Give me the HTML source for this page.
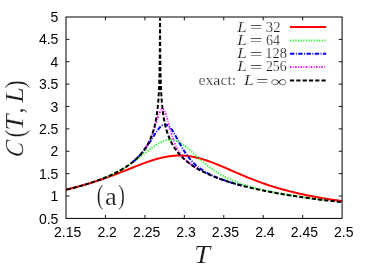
<!DOCTYPE html>
<html><head><meta charset="utf-8"><title>C(T,L)</title>
<style>html,body{margin:0;padding:0;background:#fff;}body{width:374px;height:273px;overflow:hidden;font-family:"Liberation Sans",sans-serif;}svg{display:block;will-change:transform;}</style>
</head><body>
<svg width="374" height="273" viewBox="0 0 374 273">
<rect width="374" height="273" fill="#fff"/>
<g fill="none" stroke-width="2.0" stroke-linejoin="round">
<path d="M66.00,189.70 L67.97,189.22 L69.94,188.73 L71.92,188.23 L73.89,187.73 L75.86,187.21 L77.83,186.68 L79.80,186.14 L81.78,185.59 L83.75,185.03 L85.72,184.46 L87.69,183.87 L89.67,183.28 L91.64,182.67 L93.61,182.05 L95.58,181.42 L97.55,180.77 L99.53,180.11 L101.50,179.45 L103.47,178.76 L105.44,178.07 L107.41,177.37 L109.39,176.65 L111.36,175.93 L113.33,175.19 L115.30,174.44 L117.28,173.69 L119.25,172.92 L121.22,172.15 L123.19,171.38 L125.16,170.59 L127.14,169.81 L129.11,169.02 L131.08,168.24 L133.05,167.45 L135.02,166.67 L137.00,165.89 L138.97,165.13 L140.94,164.37 L142.91,163.62 L144.89,162.90 L144.89,162.90 L145.08,162.82 L145.28,162.75 L145.48,162.68 L145.67,162.61 L145.87,162.54 L146.07,162.47 L146.27,162.40 L146.46,162.33 L146.66,162.25 L146.86,162.18 L146.86,162.18 L147.06,162.11 L147.25,162.05 L147.45,161.98 L147.65,161.91 L147.84,161.84 L148.04,161.77 L148.24,161.70 L148.44,161.63 L148.63,161.56 L148.83,161.50 L148.83,161.50 L149.03,161.43 L149.22,161.36 L149.42,161.29 L149.62,161.23 L149.82,161.16 L150.01,161.09 L150.21,161.03 L150.41,160.96 L150.60,160.90 L150.80,160.83 L150.80,160.83 L151.00,160.77 L151.20,160.70 L151.39,160.64 L151.59,160.57 L151.79,160.51 L151.99,160.44 L152.18,160.38 L152.38,160.32 L152.58,160.25 L152.77,160.19 L152.77,160.19 L152.97,160.13 L153.17,160.07 L153.37,160.01 L153.56,159.95 L153.76,159.88 L153.96,159.82 L154.15,159.76 L154.35,159.70 L154.55,159.64 L154.75,159.58 L154.75,159.58 L154.94,159.52 L155.14,159.47 L155.34,159.41 L155.54,159.35 L155.73,159.29 L155.93,159.23 L156.13,159.18 L156.32,159.12 L156.52,159.06 L156.72,159.01 L156.72,159.01 L156.92,158.95 L157.11,158.90 L157.31,158.84 L157.51,158.79 L157.70,158.73 L157.90,158.68 L158.10,158.63 L158.30,158.57 L158.49,158.52 L158.69,158.47 L158.69,158.47 L158.89,158.42 L159.09,158.36 L159.28,158.31 L159.48,158.26 L159.68,158.21 L159.87,158.16 L160.07,158.11 L160.27,158.06 L160.47,158.01 L160.66,157.97 L160.66,157.97 L160.86,157.92 L161.06,157.87 L161.25,157.82 L161.45,157.78 L161.65,157.73 L161.85,157.68 L162.04,157.64 L162.24,157.59 L162.44,157.55 L162.63,157.50 L162.64,157.50 L162.83,157.46 L163.03,157.42 L163.23,157.37 L163.42,157.33 L163.62,157.29 L163.82,157.25 L164.02,157.21 L164.21,157.17 L164.41,157.13 L164.61,157.09 L164.61,157.09 L164.80,157.05 L165.00,157.01 L165.20,156.97 L165.40,156.93 L165.59,156.89 L165.79,156.86 L165.99,156.82 L166.18,156.78 L166.38,156.75 L166.58,156.71 L166.58,156.71 L166.78,156.68 L166.97,156.65 L167.17,156.61 L167.37,156.58 L167.57,156.55 L167.76,156.51 L167.96,156.48 L168.16,156.45 L168.35,156.42 L168.55,156.39 L168.55,156.39 L168.75,156.36 L168.95,156.33 L169.14,156.30 L169.34,156.27 L169.54,156.25 L169.73,156.22 L169.93,156.19 L170.13,156.17 L170.33,156.14 L170.52,156.12 L170.52,156.12 L170.72,156.09 L170.92,156.07 L171.12,156.04 L171.31,156.02 L171.51,156.00 L171.71,155.98 L171.90,155.95 L172.10,155.93 L172.30,155.91 L172.50,155.89 L172.50,155.89 L172.69,155.87 L172.89,155.86 L173.09,155.84 L173.28,155.82 L173.48,155.80 L173.68,155.79 L173.88,155.77 L174.07,155.75 L174.27,155.74 L174.47,155.72 L174.47,155.72 L174.67,155.71 L174.86,155.70 L175.06,155.68 L175.26,155.67 L175.45,155.66 L175.65,155.65 L175.85,155.64 L176.05,155.63 L176.24,155.62 L176.44,155.61 L176.44,155.61 L176.64,155.60 L176.83,155.59 L177.03,155.59 L177.23,155.58 L177.43,155.57 L177.62,155.57 L177.82,155.56 L178.02,155.56 L178.21,155.55 L178.41,155.55 L178.41,155.55 L178.61,155.55 L178.81,155.54 L179.00,155.54 L179.20,155.54 L179.40,155.54 L179.60,155.54 L179.79,155.54 L179.99,155.54 L180.19,155.54 L180.38,155.55 L180.38,155.55 L180.58,155.55 L180.78,155.55 L180.98,155.56 L181.17,155.56 L181.37,155.56 L181.57,155.57 L181.76,155.58 L181.96,155.58 L182.16,155.59 L182.36,155.60 L182.36,155.60 L182.55,155.61 L182.75,155.61 L182.95,155.62 L183.15,155.63 L183.34,155.64 L183.54,155.66 L183.74,155.67 L183.93,155.68 L184.13,155.69 L184.33,155.71 L184.33,155.71 L186.30,155.87 L188.27,156.09 L190.24,156.36 L192.22,156.68 L194.19,157.06 L196.16,157.49 L198.13,157.96 L200.11,158.47 L202.08,159.03 L204.05,159.63 L206.02,160.27 L207.99,160.94 L209.97,161.64 L211.94,162.37 L213.91,163.13 L215.88,163.90 L217.85,164.70 L219.83,165.51 L221.80,166.34 L223.77,167.18 L225.74,168.03 L227.72,168.88 L229.69,169.74 L231.66,170.60 L233.63,171.46 L235.60,172.31 L237.58,173.16 L239.55,174.01 L241.52,174.85 L243.49,175.68 L245.46,176.50 L247.44,177.31 L249.41,178.11 L251.38,178.90 L253.35,179.67 L255.33,180.43 L257.30,181.18 L259.27,181.91 L261.24,182.63 L263.21,183.33 L265.19,184.02 L267.16,184.69 L269.13,185.34 L271.10,185.99 L273.07,186.61 L275.05,187.22 L277.02,187.82 L278.99,188.40 L280.96,188.97 L282.94,189.52 L284.91,190.06 L286.88,190.59 L288.85,191.10 L290.82,191.60 L292.80,192.09 L294.77,192.57 L296.74,193.03 L298.71,193.48 L300.68,193.92 L302.66,194.35 L304.63,194.77 L306.60,195.18 L308.57,195.58 L310.55,195.97 L312.52,196.35 L314.49,196.72 L316.46,197.08 L318.43,197.44 L320.41,197.79 L322.38,198.12 L324.35,198.45 L326.32,198.78 L328.29,199.09 L330.27,199.40 L332.24,199.71 L334.21,200.00 L336.18,200.30 L338.16,200.58 L340.13,200.86 L342.10,201.13" stroke="#ff0000"/>
<path d="M104.92,177.66 L105.44,177.45 L107.41,176.63 L109.39,175.77 L111.36,174.88 L113.33,173.95 L115.30,172.99 L117.28,171.99 L119.25,170.95 L121.22,169.87 L123.19,168.74 L125.16,167.57 L127.14,166.34 L129.11,165.07 L131.08,163.76 L133.05,162.39 L135.02,160.98 L137.00,159.52 L138.97,158.02 L140.94,156.49 L142.91,154.94 L144.89,153.38 L144.89,153.38 L145.08,153.22 L145.28,153.06 L145.48,152.90 L145.67,152.75 L145.87,152.59 L146.07,152.43 L146.27,152.28 L146.46,152.12 L146.66,151.96 L146.86,151.81 L146.86,151.81 L147.06,151.65 L147.25,151.50 L147.45,151.34 L147.65,151.18 L147.84,151.03 L148.04,150.87 L148.24,150.72 L148.44,150.56 L148.63,150.41 L148.83,150.25 L148.83,150.25 L149.03,150.10 L149.22,149.95 L149.42,149.79 L149.62,149.64 L149.82,149.49 L150.01,149.34 L150.21,149.18 L150.41,149.03 L150.60,148.88 L150.80,148.73 L150.80,148.73 L151.00,148.58 L151.20,148.43 L151.39,148.28 L151.59,148.14 L151.79,147.99 L151.99,147.84 L152.18,147.70 L152.38,147.55 L152.58,147.41 L152.77,147.26 L152.77,147.26 L152.97,147.12 L153.17,146.98 L153.37,146.83 L153.56,146.69 L153.76,146.55 L153.96,146.41 L154.15,146.28 L154.35,146.14 L154.55,146.00 L154.75,145.86 L154.75,145.86 L154.94,145.73 L155.14,145.60 L155.34,145.46 L155.54,145.33 L155.73,145.20 L155.93,145.07 L156.13,144.94 L156.32,144.82 L156.52,144.69 L156.72,144.56 L156.72,144.56 L156.92,144.44 L157.11,144.32 L157.31,144.20 L157.51,144.08 L157.70,143.96 L157.90,143.84 L158.10,143.72 L158.30,143.61 L158.49,143.49 L158.69,143.38 L158.69,143.38 L158.89,143.27 L159.09,143.16 L159.28,143.05 L159.48,142.95 L159.68,142.84 L159.87,142.74 L160.07,142.64 L160.27,142.54 L160.47,142.44 L160.66,142.34 L160.66,142.34 L160.86,142.25 L161.06,142.15 L161.25,142.06 L161.45,141.97 L161.65,141.88 L161.85,141.80 L162.04,141.71 L162.24,141.63 L162.44,141.55 L162.63,141.47 L162.64,141.47 L162.83,141.39 L163.03,141.32 L163.23,141.24 L163.42,141.17 L163.62,141.10 L163.82,141.03 L164.02,140.97 L164.21,140.90 L164.41,140.84 L164.61,140.78 L164.61,140.78 L164.80,140.72 L165.00,140.67 L165.20,140.61 L165.40,140.56 L165.59,140.51 L165.79,140.46 L165.99,140.42 L166.18,140.37 L166.38,140.33 L166.58,140.29 L166.58,140.29 L166.78,140.26 L166.97,140.22 L167.17,140.19 L167.37,140.16 L167.57,140.13 L167.76,140.11 L167.96,140.08 L168.16,140.06 L168.35,140.04 L168.55,140.03 L168.55,140.03 L168.75,140.01 L168.95,140.00 L169.14,139.99 L169.34,139.98 L169.54,139.97 L169.73,139.97 L169.93,139.97 L170.13,139.97 L170.33,139.98 L170.52,139.98 L170.52,139.98 L170.72,139.99 L170.92,140.00 L171.12,140.01 L171.31,140.03 L171.51,140.05 L171.71,140.07 L171.90,140.09 L172.10,140.11 L172.30,140.14 L172.50,140.17 L172.50,140.17 L172.69,140.20 L172.89,140.23 L173.09,140.27 L173.28,140.30 L173.48,140.35 L173.68,140.39 L173.88,140.43 L174.07,140.48 L174.27,140.53 L174.47,140.58 L174.47,140.58 L174.67,140.63 L174.86,140.69 L175.06,140.75 L175.26,140.81 L175.45,140.87 L175.65,140.93 L175.85,141.00 L176.05,141.07 L176.24,141.14 L176.44,141.21 L176.44,141.21 L176.64,141.29 L176.83,141.37 L177.03,141.45 L177.23,141.53 L177.43,141.61 L177.62,141.70 L177.82,141.78 L178.02,141.87 L178.21,141.96 L178.41,142.06 L178.41,142.06 L178.61,142.15 L178.81,142.25 L179.00,142.35 L179.20,142.45 L179.40,142.55 L179.60,142.66 L179.79,142.76 L179.99,142.87 L180.19,142.98 L180.38,143.10 L180.38,143.10 L180.58,143.21 L180.78,143.32 L180.98,143.44 L181.17,143.56 L181.37,143.68 L181.57,143.80 L181.76,143.93 L181.96,144.05 L182.16,144.18 L182.36,144.31 L182.36,144.31 L182.55,144.44 L182.75,144.57 L182.95,144.70 L183.15,144.84 L183.34,144.97 L183.54,145.11 L183.74,145.25 L183.93,145.39 L184.13,145.53 L184.33,145.67 L184.33,145.67 L186.30,147.16 L188.27,148.76 L190.24,150.43 L192.22,152.16 L194.19,153.93 L196.16,155.70 L198.13,157.48 L200.11,159.23 L202.08,160.95 L204.05,162.64 L206.02,164.27 L207.99,165.84 L209.97,167.36 L211.94,168.81 L213.91,170.20 L215.88,171.53 L217.85,172.80 L219.83,174.00 L221.80,175.14 L223.77,176.23 L225.74,177.26 L227.72,178.24 L229.69,179.18 L231.66,180.06 L233.63,180.91 L235.60,181.71 L237.58,182.48 L239.55,183.21 L241.52,183.91 L243.49,184.58 L245.46,185.22 L247.44,185.84 L249.41,186.43 L251.38,187.00 L253.35,187.55 L255.33,188.08 L257.30,188.59 L259.27,189.08 L261.24,189.56 L263.21,190.02 L265.19,190.47 L267.16,190.91 L269.13,191.33 L271.10,191.74 L273.07,192.14 L275.05,192.54 L277.02,192.92 L278.99,193.29 L280.96,193.65 L282.94,194.01 L284.91,194.36 L286.88,194.70 L288.85,195.03 L290.82,195.36 L292.80,195.68 L294.77,196.00 L296.74,196.31 L298.71,196.61 L300.68,196.91 L302.66,197.20 L304.63,197.49 L306.60,197.77 L308.57,198.05 L310.55,198.32 L312.52,198.59 L314.49,198.86 L316.46,199.12 L318.43,199.38 L320.41,199.63 L322.38,199.88 L324.35,200.13 L325.68,200.29" stroke="#00ff00" stroke-dasharray="1.0 1.65"/>
<path d="M132.47,162.17 L133.05,161.70 L135.02,160.01 L137.00,158.19 L138.97,156.21 L140.94,154.07 L142.91,151.76 L144.89,149.25 L144.89,149.25 L145.08,148.98 L145.28,148.72 L145.48,148.46 L145.67,148.19 L145.87,147.92 L146.07,147.65 L146.27,147.37 L146.46,147.10 L146.66,146.82 L146.86,146.54 L146.86,146.54 L147.06,146.26 L147.25,145.98 L147.45,145.70 L147.65,145.41 L147.84,145.12 L148.04,144.83 L148.24,144.54 L148.44,144.25 L148.63,143.95 L148.83,143.66 L148.83,143.66 L149.03,143.36 L149.22,143.06 L149.42,142.76 L149.62,142.46 L149.82,142.16 L150.01,141.85 L150.21,141.55 L150.41,141.24 L150.60,140.93 L150.80,140.62 L150.80,140.62 L151.00,140.31 L151.20,140.00 L151.39,139.69 L151.59,139.38 L151.79,139.07 L151.99,138.76 L152.18,138.44 L152.38,138.13 L152.58,137.82 L152.77,137.50 L152.77,137.50 L152.97,137.19 L153.17,136.88 L153.37,136.56 L153.56,136.25 L153.76,135.94 L153.96,135.63 L154.15,135.32 L154.35,135.01 L154.55,134.70 L154.75,134.39 L154.75,134.39 L154.94,134.09 L155.14,133.78 L155.34,133.48 L155.54,133.18 L155.73,132.88 L155.93,132.59 L156.13,132.29 L156.32,132.00 L156.52,131.71 L156.72,131.43 L156.72,131.43 L156.92,131.15 L157.11,130.87 L157.31,130.59 L157.51,130.32 L157.70,130.05 L157.90,129.79 L158.10,129.53 L158.30,129.27 L158.49,129.02 L158.69,128.78 L158.69,128.78 L158.89,128.54 L159.09,128.30 L159.28,128.07 L159.48,127.85 L159.68,127.63 L159.87,127.42 L160.07,127.21 L160.27,127.01 L160.47,126.82 L160.66,126.63 L160.66,126.63 L160.86,126.45 L161.06,126.28 L161.25,126.11 L161.45,125.95 L161.65,125.80 L161.85,125.66 L162.04,125.52 L162.24,125.39 L162.44,125.27 L162.63,125.16 L162.64,125.16 L162.83,125.06 L163.03,124.97 L163.23,124.88 L163.42,124.80 L163.62,124.73 L163.82,124.68 L164.02,124.62 L164.21,124.58 L164.41,124.55 L164.61,124.53 L164.61,124.53 L164.80,124.51 L165.00,124.51 L165.20,124.51 L165.40,124.53 L165.59,124.55 L165.79,124.58 L165.99,124.62 L166.18,124.67 L166.38,124.73 L166.58,124.80 L166.58,124.80 L166.78,124.88 L166.97,124.97 L167.17,125.07 L167.37,125.17 L167.57,125.29 L167.76,125.41 L167.96,125.54 L168.16,125.68 L168.35,125.83 L168.55,125.99 L168.55,125.99 L168.75,126.16 L168.95,126.33 L169.14,126.52 L169.34,126.71 L169.54,126.90 L169.73,127.11 L169.93,127.33 L170.13,127.55 L170.33,127.78 L170.52,128.01 L170.52,128.01 L170.72,128.25 L170.92,128.50 L171.12,128.76 L171.31,129.02 L171.51,129.29 L171.71,129.56 L171.90,129.84 L172.10,130.13 L172.30,130.42 L172.50,130.71 L172.50,130.71 L172.69,131.01 L172.89,131.32 L173.09,131.63 L173.28,131.94 L173.48,132.26 L173.68,132.58 L173.88,132.91 L174.07,133.24 L174.27,133.57 L174.47,133.91 L174.47,133.91 L174.67,134.25 L174.86,134.59 L175.06,134.93 L175.26,135.28 L175.45,135.63 L175.65,135.98 L175.85,136.33 L176.05,136.69 L176.24,137.04 L176.44,137.40 L176.44,137.40 L176.64,137.76 L176.83,138.12 L177.03,138.48 L177.23,138.84 L177.43,139.20 L177.62,139.56 L177.82,139.92 L178.02,140.29 L178.21,140.65 L178.41,141.01 L178.41,141.01 L178.61,141.37 L178.81,141.73 L179.00,142.09 L179.20,142.45 L179.40,142.81 L179.60,143.16 L179.79,143.52 L179.99,143.87 L180.19,144.23 L180.38,144.58 L180.38,144.58 L180.58,144.93 L180.78,145.28 L180.98,145.63 L181.17,145.97 L181.37,146.32 L181.57,146.66 L181.76,147.00 L181.96,147.34 L182.16,147.68 L182.36,148.01 L182.36,148.01 L182.55,148.34 L182.75,148.67 L182.95,149.00 L183.15,149.33 L183.34,149.65 L183.54,149.97 L183.74,150.29 L183.93,150.60 L184.13,150.92 L184.33,151.23 L184.33,151.23 L186.30,154.20 L188.27,156.91 L190.24,159.37 L192.22,161.59 L194.19,163.59 L196.16,165.40 L198.13,167.04 L200.11,168.54 L202.08,169.90 L204.05,171.16 L206.02,172.32 L207.99,173.40 L209.97,174.41 L211.94,175.36 L213.91,176.26 L215.88,177.11 L217.85,177.91 L219.83,178.68 L221.80,179.42 L223.77,180.13 L225.74,180.80 L227.72,181.46 L229.69,182.09 L231.66,182.70 L233.63,183.29 L235.60,183.87 L237.58,184.43 L239.55,184.97 L241.52,185.49 L242.85,185.84" stroke="#0000ff" stroke-dasharray="4.4 1.45 0.95 1.45"/>
<path d="M146.25,146.77 L146.27,146.74 L146.46,146.42 L146.66,146.09 L146.86,145.76 L146.86,145.76 L147.06,145.43 L147.25,145.09 L147.45,144.74 L147.65,144.39 L147.84,144.03 L148.04,143.67 L148.24,143.30 L148.44,142.93 L148.63,142.55 L148.83,142.17 L148.83,142.17 L149.03,141.78 L149.22,141.38 L149.42,140.98 L149.62,140.57 L149.82,140.15 L150.01,139.73 L150.21,139.29 L150.41,138.86 L150.60,138.41 L150.80,137.96 L150.80,137.96 L151.00,137.50 L151.20,137.03 L151.39,136.56 L151.59,136.08 L151.79,135.59 L151.99,135.09 L152.18,134.58 L152.38,134.07 L152.58,133.55 L152.77,133.02 L152.77,133.02 L152.97,132.49 L153.17,131.94 L153.37,131.39 L153.56,130.83 L153.76,130.26 L153.96,129.69 L154.15,129.11 L154.35,128.52 L154.55,127.93 L154.75,127.33 L154.75,127.33 L154.94,126.73 L155.14,126.12 L155.34,125.50 L155.54,124.88 L155.73,124.26 L155.93,123.64 L156.13,123.01 L156.32,122.39 L156.52,121.76 L156.72,121.13 L156.72,121.13 L156.92,120.51 L157.11,119.89 L157.31,119.27 L157.51,118.66 L157.70,118.05 L157.90,117.45 L158.10,116.86 L158.30,116.29 L158.49,115.72 L158.69,115.16 L158.69,115.16 L158.89,114.63 L159.09,114.10 L159.28,113.60 L159.48,113.11 L159.68,112.65 L159.87,112.20 L160.07,111.79 L160.27,111.39 L160.47,111.03 L160.66,110.69 L160.66,110.69 L160.86,110.38 L161.06,110.10 L161.25,109.86 L161.45,109.64 L161.65,109.46 L161.85,109.32 L162.04,109.21 L162.24,109.14 L162.44,109.11 L162.63,109.11 L162.64,109.11 L162.83,109.15 L163.03,109.22 L163.23,109.34 L163.42,109.49 L163.62,109.68 L163.82,109.90 L164.02,110.16 L164.21,110.46 L164.41,110.79 L164.61,111.15 L164.61,111.15 L164.80,111.55 L165.00,111.97 L165.20,112.43 L165.40,112.91 L165.59,113.42 L165.79,113.96 L165.99,114.52 L166.18,115.10 L166.38,115.70 L166.58,116.32 L166.58,116.32 L166.78,116.96 L166.97,117.62 L167.17,118.28 L167.37,118.97 L167.57,119.66 L167.76,120.36 L167.96,121.07 L168.16,121.79 L168.35,122.51 L168.55,123.23 L168.55,123.23 L168.75,123.96 L168.95,124.69 L169.14,125.42 L169.34,126.14 L169.54,126.87 L169.73,127.59 L169.93,128.31 L170.13,129.02 L170.33,129.73 L170.52,130.43 L170.52,130.43 L170.72,131.13 L170.92,131.81 L171.12,132.49 L171.31,133.16 L171.51,133.82 L171.71,134.48 L171.90,135.12 L172.10,135.75 L172.30,136.37 L172.50,136.99 L172.50,136.99 L172.69,137.59 L172.89,138.18 L173.09,138.76 L173.28,139.33 L173.48,139.89 L173.68,140.44 L173.88,140.98 L174.07,141.51 L174.27,142.02 L174.47,142.53 L174.47,142.53 L174.67,143.03 L174.86,143.52 L175.06,143.99 L175.26,144.46 L175.45,144.92 L175.65,145.37 L175.85,145.81 L176.05,146.24 L176.24,146.66 L176.44,147.08 L176.44,147.08 L176.64,147.48 L176.83,147.88 L177.03,148.27 L177.23,148.65 L177.43,149.02 L177.62,149.39 L177.82,149.75 L178.02,150.10 L178.21,150.44 L178.41,150.78 L178.41,150.78 L178.61,151.11 L178.81,151.44 L179.00,151.76 L179.20,152.07 L179.40,152.38 L179.60,152.68 L179.79,152.98 L179.99,153.27 L180.19,153.56 L180.38,153.84 L180.38,153.84 L180.58,154.11 L180.78,154.39 L180.98,154.65 L181.17,154.91 L181.37,155.17 L181.57,155.43 L181.76,155.68 L181.96,155.92 L182.16,156.17 L182.36,156.40 L182.36,156.40 L182.55,156.64 L182.75,156.87 L182.95,157.10 L183.15,157.32 L183.34,157.55 L183.54,157.76 L183.74,157.98 L183.93,158.19 L184.13,158.40 L184.33,158.61 L184.33,158.61 L186.30,160.54 L188.27,162.27 L190.24,163.84 L192.22,165.28 L194.19,166.62 L196.16,167.87 L198.13,169.05 L200.11,170.16 L201.44,170.87" stroke="#ff00ff" stroke-dasharray="1.5 1.6 0.7 1.4"/>
<path d="M66.000,189.731 L67.972,189.252 L69.944,188.762 L71.916,188.261 L73.889,187.750 L75.861,187.226 L77.833,186.691 L79.805,186.143 L81.134,185.766 L81.777,185.581 L83.749,185.005 L85.721,184.415 L86.425,184.200 L87.694,183.809 L89.666,183.186 L91.361,182.637 L91.638,182.546 L93.610,181.888 L95.582,181.210 L95.966,181.076 L97.554,180.512 L99.526,179.791 L100.262,179.516 L101.499,179.047 L103.471,178.277 L104.270,177.958 L105.443,177.481 L107.415,176.656 L108.009,176.401 L109.387,175.800 L111.359,174.910 L111.498,174.846 L113.331,173.983 L114.752,173.292 L115.304,173.018 L117.276,172.009 L117.788,171.739 L119.248,170.953 L120.621,170.188 L121.220,169.845 L123.192,168.681 L123.263,168.637 L125.164,167.452 L125.728,167.088 L127.136,166.153 L128.028,165.540 L129.109,164.774 L130.174,163.992 L131.081,163.305 L132.176,162.445 L133.053,161.733 L134.043,160.900 L135.025,160.042 L135.786,159.354 L136.997,158.213 L137.411,157.810 L138.927,156.266 L138.969,156.222 L140.342,154.723 L140.941,154.035 L141.662,153.180 L142.893,151.638 L142.914,151.611 L144.042,150.096 L144.886,148.891 L145.114,148.554 L146.113,147.013 L146.858,145.792 L147.046,145.473 L147.916,143.933 L148.728,142.393 L148.830,142.191 L149.485,140.853 L150.192,139.314 L150.802,137.893 L150.851,137.774 L151.466,136.235 L152.040,134.697 L152.575,133.158 L152.774,132.557 L153.074,131.620 L153.540,130.082 L153.975,128.544 L154.380,127.006 L154.746,125.519 L154.759,125.468 L155.111,123.930 L155.441,122.393 L155.748,120.855 L156.034,119.318 L156.302,117.780 L156.551,116.243 L156.719,115.148 L156.784,114.706 L157.001,113.169 L157.203,111.632 L157.392,110.095 L157.569,108.558 L157.733,107.021 L157.886,105.484 L158.029,103.947 L158.163,102.410 L158.288,100.874 L158.404,99.337 L158.512,97.800 L158.613,96.263 L158.691,95.011 L158.708,94.727 L158.796,93.190 L158.878,91.653 L158.954,90.117 L159.026,88.580 L159.093,87.043 L159.155,85.507 L159.213,83.970 L159.267,82.434 L159.318,80.897 L159.365,79.360 L159.409,77.824 L159.450,76.287 L159.488,74.751 L159.524,73.214 L159.557,71.677 L159.588,70.141 L159.617,68.604 L159.644,67.068 L159.669,65.531 L159.693,63.994 L159.715,62.458 L159.735,60.921 L159.754,59.385 L159.772,57.848 L159.789,56.312 L159.804,54.775 L159.819,53.238 L159.832,51.702 L159.845,50.165 L159.857,48.629 L159.868,47.092 L159.878,45.556 L159.887,44.019 L159.896,42.482 L159.905,40.946 L159.912,39.409 L159.920,37.873 L159.926,36.336 L159.933,34.800 L159.939,33.263 L159.944,31.726 L159.949,30.190 L159.954,28.653 L159.958,27.117 L159.962,25.580 L159.966,24.043 L159.970,22.507 L159.973,20.970 L159.976,19.434 L159.978,18.790 L160.063,18.790 L160.064,19.434 L160.067,20.971 L160.070,22.507 L160.074,24.044 L160.078,25.581 L160.082,27.117 L160.087,28.654 L160.091,30.191 L160.096,31.727 L160.102,33.264 L160.108,34.800 L160.114,36.337 L160.121,37.874 L160.128,39.410 L160.136,40.947 L160.144,42.483 L160.153,44.020 L160.163,45.557 L160.173,47.093 L160.184,48.630 L160.195,50.167 L160.208,51.703 L160.222,53.240 L160.236,54.776 L160.252,56.313 L160.268,57.850 L160.286,59.386 L160.305,60.923 L160.326,62.460 L160.348,63.996 L160.371,65.533 L160.396,67.069 L160.423,68.606 L160.452,70.143 L160.483,71.679 L160.517,73.216 L160.552,74.753 L160.591,76.289 L160.632,77.826 L160.663,78.924 L160.676,79.362 L160.723,80.899 L160.773,82.436 L160.828,83.972 L160.886,85.509 L160.948,87.045 L161.014,88.582 L161.086,90.118 L161.163,91.655 L161.245,93.191 L161.333,94.728 L161.427,96.264 L161.528,97.801 L161.637,99.337 L161.753,100.874 L161.877,102.410 L162.011,103.946 L162.154,105.483 L162.307,107.019 L162.472,108.555 L162.635,109.981 L162.648,110.091 L162.837,111.628 L163.040,113.164 L163.257,114.700 L163.489,116.236 L163.739,117.771 L164.006,119.307 L164.293,120.843 L164.600,122.378 L164.607,122.415 L164.929,123.914 L165.282,125.449 L165.660,126.984 L166.066,128.520 L166.500,130.054 L166.579,130.323 L166.966,131.589 L167.465,133.124 L168.001,134.658 L168.551,136.133 L168.574,136.192 L169.189,137.726 L169.848,139.259 L170.524,140.726 L170.555,140.792 L171.312,142.325 L172.124,143.857 L172.496,144.525 L172.994,145.389 L173.927,146.921 L174.468,147.762 L174.927,148.452 L175.999,149.982 L176.440,150.583 L177.147,151.512 L178.378,153.041 L178.412,153.082 L179.698,154.570 L180.384,155.324 L181.113,156.097 L182.356,157.357 L182.629,157.624 L184.255,159.150 L184.329,159.217 L185.997,160.675 L186.301,160.930 L187.865,162.198 L188.273,162.518 L189.866,163.721 L190.245,163.997 L192.012,165.242 L192.217,165.381 L194.189,166.683 L194.312,166.761 L196.161,167.910 L196.777,168.279 L198.134,169.070 L199.420,169.795 L200.106,170.172 L202.078,171.219 L202.252,171.309 L204.050,172.217 L205.288,172.821 L206.022,173.171 L207.994,174.084 L208.543,174.331 L209.966,174.959 L211.939,175.799 L212.031,175.838 L213.911,176.607 L215.770,177.342 L215.883,177.386 L217.855,178.136 L219.778,178.843 L219.827,178.861 L221.799,179.562 L223.771,180.239 L224.074,180.341 L225.744,180.896 L227.716,181.532 L228.679,181.836 L229.688,182.149 L231.660,182.749 L233.615,183.326 L233.632,183.331 L235.604,183.898 L237.576,184.449 L238.906,184.813 L239.549,184.986 L241.521,185.509 L243.493,186.019 L245.465,186.517 L247.437,187.002 L249.409,187.477 L251.381,187.940 L253.354,188.393 L255.326,188.836 L257.298,189.269 L259.270,189.694 L261.242,190.109 L263.214,190.516 L265.186,190.914 L267.159,191.305 L269.131,191.688 L271.103,192.064 L273.075,192.433 L275.047,192.795 L277.019,193.150 L278.991,193.499 L280.964,193.842 L282.936,194.179 L284.908,194.510 L286.880,194.836 L288.852,195.156 L290.824,195.471 L292.796,195.780 L294.769,196.085 L296.741,196.385 L298.713,196.680 L300.685,196.971 L302.657,197.257 L304.629,197.539 L306.601,197.817 L308.574,198.091 L310.546,198.361 L312.518,198.627 L314.490,198.889 L316.462,199.147 L318.434,199.402 L320.406,199.654 L322.379,199.902 L324.351,200.147 L326.323,200.388 L328.295,200.626 L330.267,200.862 L332.239,201.094 L334.211,201.323 L336.184,201.550 L338.156,201.773 L340.128,201.994 L342.100,202.212" stroke="#000000" stroke-dasharray="4.2 2.1" stroke-dashoffset="5.541"/>
<path d="M290,27 L326.2,27" stroke="#ff0000"/>
<path d="M290,40.4 L326.2,40.4" stroke="#00ff00" stroke-dasharray="1.0 1.65"/>
<path d="M290,53.7 L326.2,53.7" stroke="#0000ff" stroke-dasharray="4.4 1.45 0.95 1.45"/>
<path d="M290,67.1 L326.2,67.1" stroke="#ff00ff" stroke-dasharray="1.5 1.6 0.7 1.4"/>
<path d="M290,80.4 L326.2,80.4" stroke="#000000" stroke-dasharray="4.2 2.1"/>
</g>
<g fill="none" stroke="#000" stroke-width="1.0">
<rect x="66.0" y="17.0" width="276.1" height="201.4"/>
<path d="M105.44,218.40 v-3.40 M105.44,17.00 v3.40 M144.89,218.40 v-3.40 M144.89,17.00 v3.40 M184.33,218.40 v-3.40 M184.33,17.00 v3.40 M223.77,218.40 v-3.40 M223.77,17.00 v3.40 M263.21,218.40 v-3.40 M263.21,17.00 v3.40 M302.66,218.40 v-3.40 M302.66,17.00 v3.40 M66.00,196.02 h3.40 M342.10,196.02 h-3.40 M66.00,173.64 h3.40 M342.10,173.64 h-3.40 M66.00,151.27 h3.40 M342.10,151.27 h-3.40 M66.00,128.89 h3.40 M342.10,128.89 h-3.40 M66.00,106.51 h3.40 M342.10,106.51 h-3.40 M66.00,84.13 h3.40 M342.10,84.13 h-3.40 M66.00,61.76 h3.40 M342.10,61.76 h-3.40 M66.00,39.38 h3.40 M342.10,39.38 h-3.40" stroke-width="0.9"/>
</g>
<g font-family="Liberation Sans, sans-serif" font-size="14" fill="#000" stroke="#fff" stroke-width="0">
<text x="67.70" y="237.1" text-anchor="middle">2.15</text>
<text x="107.14" y="237.1" text-anchor="middle">2.2</text>
<text x="146.59" y="237.1" text-anchor="middle">2.25</text>
<text x="186.03" y="237.1" text-anchor="middle">2.3</text>
<text x="225.47" y="237.1" text-anchor="middle">2.35</text>
<text x="264.91" y="237.1" text-anchor="middle">2.4</text>
<text x="304.36" y="237.1" text-anchor="middle">2.45</text>
<text x="343.80" y="237.1" text-anchor="middle">2.5</text>
<text x="58.4" y="223.50" text-anchor="end">0.5</text>
<text x="58.4" y="201.12" text-anchor="end">1</text>
<text x="58.4" y="178.74" text-anchor="end">1.5</text>
<text x="58.4" y="156.37" text-anchor="end">2</text>
<text x="58.4" y="133.99" text-anchor="end">2.5</text>
<text x="58.4" y="111.61" text-anchor="end">3</text>
<text x="58.4" y="89.23" text-anchor="end">3.5</text>
<text x="58.4" y="66.86" text-anchor="end">4</text>
<text x="58.4" y="44.48" text-anchor="end">4.5</text>
<text x="58.4" y="22.10" text-anchor="end">5</text>
</g>
<g font-family="Liberation Serif, serif" fill="#1a1a1a">
<text font-size="25.92" transform="translate(23,156.1) rotate(-90) translate(-2.12,0.36) skewX(-10) scale(0.914,1)" font-style="italic" stroke="#fff" stroke-width="0.2">C</text>
<text font-size="26.69" transform="translate(23,156.1) rotate(-90) translate(18.82,0.52) scale(0.832,1)" stroke="#fff" stroke-width="0.2">(</text>
<text font-size="24.74" transform="translate(23,156.1) rotate(-90) translate(25.3,-0.0) scale(1.176,1)" font-style="italic" stroke="#fff" stroke-width="0.2">T</text>
<text font-size="28.03" transform="translate(23,156.1) rotate(-90) translate(42.96,-0.31) scale(0.79,1)" stroke="#fff" stroke-width="0.2">,</text>
<text font-size="24.44" transform="translate(23,156.1) rotate(-90) translate(53.43,-0.0) scale(1.14,1)" font-style="italic" stroke="#fff" stroke-width="0.2">L</text>
<text font-size="26.69" transform="translate(23,156.1) rotate(-90) translate(67.93,0.52) scale(0.89,1)" stroke="#fff" stroke-width="0.2">)</text>
<text font-size="24.44" transform="translate(193.91,263.0) scale(1.183,1)" font-style="italic" stroke="#fff" stroke-width="0.2">T</text>
<text font-size="27.57" transform="translate(96.73,204.43) scale(0.72,1)" stroke="#fff" stroke-width="0.2">(</text>
<text font-size="24.84" transform="translate(105.07,204.56) scale(1.07,1)" stroke="#fff" stroke-width="0.2">a</text>
<text font-size="27.57" transform="translate(118.26,204.43) scale(0.72,1)" stroke="#fff" stroke-width="0.2">)</text>
<text font-size="14.97" transform="translate(237.2,31.5) scale(1.155,1)" font-style="italic" stroke="#fff" stroke-width="0.2">L</text>
<text font-size="14.8" transform="translate(249.68,32.06) scale(1.525,1)" stroke="#fff" stroke-width="0.001">=</text>
<text font-size="14.8" transform="translate(265.8,31.5) scale(0.994,1)" stroke="#fff" stroke-width="0.2">32</text>
<text font-size="14.97" transform="translate(237.2,44.9) scale(1.155,1)" font-style="italic" stroke="#fff" stroke-width="0.2">L</text>
<text font-size="14.8" transform="translate(249.68,45.46) scale(1.525,1)" stroke="#fff" stroke-width="0.001">=</text>
<text font-size="14.8" transform="translate(265.9,44.9) scale(0.947,1)" stroke="#fff" stroke-width="0.2">64</text>
<text font-size="14.97" transform="translate(237.2,58.3) scale(1.155,1)" font-style="italic" stroke="#fff" stroke-width="0.2">L</text>
<text font-size="14.8" transform="translate(249.68,58.86) scale(1.525,1)" stroke="#fff" stroke-width="0.001">=</text>
<text font-size="14.8" transform="translate(265.23,58.3) scale(0.974,1)" stroke="#fff" stroke-width="0.2">128</text>
<text font-size="14.97" transform="translate(237.2,71.2) scale(1.155,1)" font-style="italic" stroke="#fff" stroke-width="0.2">L</text>
<text font-size="14.8" transform="translate(249.68,71.76) scale(1.525,1)" stroke="#fff" stroke-width="0.001">=</text>
<text font-size="14.8" transform="translate(265.89,71.2) scale(0.938,1)" stroke="#fff" stroke-width="0.2">256</text>
<text font-size="14.2" transform="translate(198.38,85.1) scale(1.118,1)" stroke="#fff" stroke-width="0.25">exact:</text>
<text font-size="14.97" transform="translate(244.11,85.1) scale(1.194,1)" font-style="italic" stroke="#fff" stroke-width="0.2">L</text>
<text font-size="14.8" transform="translate(256.13,85.66) scale(1.452,1)" stroke="#fff" stroke-width="0.001">=</text>
<text font-size="16.28" transform="translate(270.81,86.51) scale(1.446,1)" stroke="#fff" stroke-width="0.2">∞</text>
</g>
</svg>
</body></html>
